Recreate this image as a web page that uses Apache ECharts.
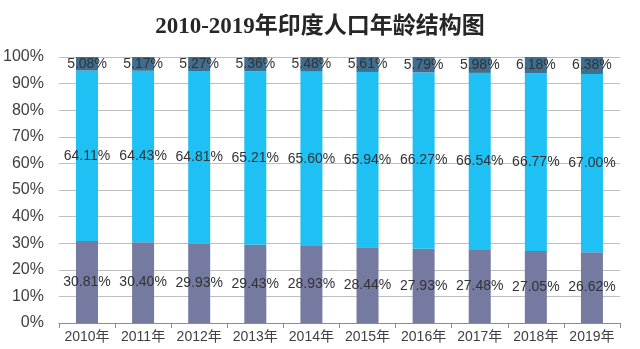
<!DOCTYPE html>
<html>
<head>
<meta charset="utf-8">
<style>
  html, body { margin: 0; padding: 0; background: #fff; }
  #chart { width: 640px; height: 349px; }
</style>
<script src="https://cdn.jsdelivr.net/npm/echarts@6/dist/echarts.min.js"></script>
</head>
<body>
<div id="chart"></div>
<script>
// Age structure of India's population, 2010–2019 (percent of total)
const years = ['2010年', '2011年', '2012年', '2013年', '2014年', '2015年', '2016年', '2017年', '2018年', '2019年'];
const age0to14 = [30.81, 30.40, 29.93, 29.43, 28.93, 28.44, 27.93, 27.48, 27.05, 26.62];
const age15to64 = [64.11, 64.43, 64.81, 65.21, 65.60, 65.94, 66.27, 66.54, 66.77, 67.00];
const age65plus = [5.08, 5.17, 5.27, 5.36, 5.48, 5.61, 5.79, 5.98, 6.18, 6.38];
const yTicks = [0, 10, 20, 30, 40, 50, 60, 70, 80, 90, 100];

const chart = echarts.init(document.getElementById('chart'));

const labelStyle = {
  show: true,
  position: 'inside',
  color: '#333',
  fontFamily: 'Arial, "Liberation Sans", sans-serif',
  fontSize: 14,
  formatter: p => p.value.toFixed(2) + '%'
};

function segment(name, data, color) {
  return {
    name,
    type: 'bar',
    stack: 'total',
    data,
    barWidth: 22,
    itemStyle: { color },
    label: labelStyle
  };
}

chart.setOption({
  animation: false,
  title: {
    text: '2010-2019年印度人口年龄结构图',
    left: 'center',
    top: 11,
    textStyle: {
      fontFamily: '"Liberation Serif", "Noto Sans CJK SC", serif',
      fontWeight: 'bold',
      fontSize: 23,
      color: '#262626'
    }
  },
  grid: { left: 58, right: 20, top: 57, bottom: 26, containLabel: false },
  xAxis: {
    type: 'category',
    data: years,
    axisLine: { lineStyle: { color: '#8c8c8c' } },
    axisTick: { show: true, length: 5, lineStyle: { color: '#8c8c8c' } },
    axisLabel: {
      interval: 0,
      color: '#404040',
      fontSize: 14,
      margin: 7,
      fontFamily: 'Arial, "Liberation Sans", "Noto Sans CJK SC", sans-serif'
    }
  },
  yAxis: {
    type: 'value',
    min: yTicks[0],
    max: yTicks[yTicks.length - 1],
    interval: 10,
    axisLine: { show: false },
    axisTick: { show: false },
    splitLine: { lineStyle: { color: '#bfbfbf', width: 1 } },
    axisLabel: {
      color: '#404040',
      fontSize: 16,
      margin: 15,
      fontFamily: 'Arial, "Liberation Sans", sans-serif',
      formatter: v => v + '%'
    }
  },
  series: [
    segment('0-14岁', age0to14, '#757aa1'),
    segment('15-64岁', age15to64, '#1fc0f3'),
    segment('65岁及以上', age65plus, '#3f6e8e')
  ]
});
</script>
</body>
</html>
